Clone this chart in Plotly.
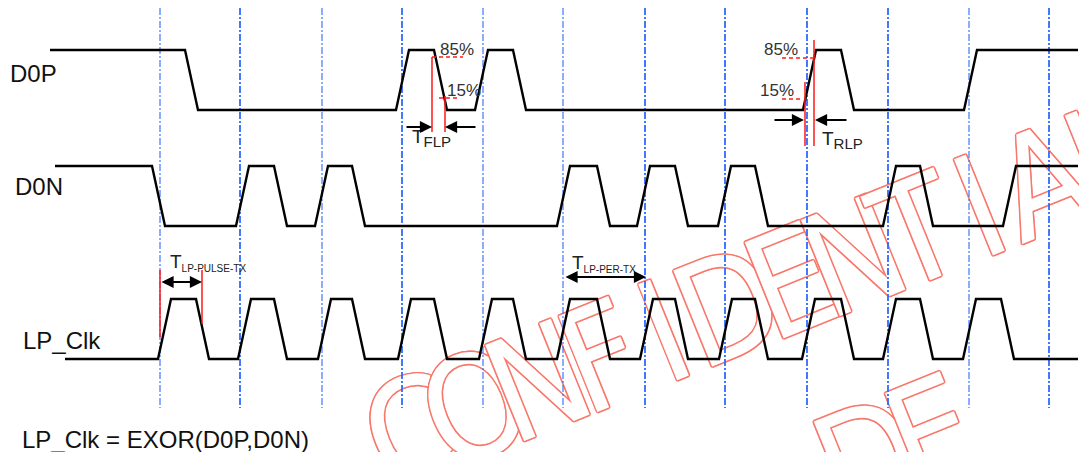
import math
import plotly.graph_objects as go

# ---------------- data (time positions on the diagram's horizontal scale) ----------------
signal_names = ["D0P", "D0N", "LP_Clk"]
d0p_edges = [185, 396, 434, 475, 513, 803, 841, 964]
d0n_edges = [152, 236, 274, 315, 352, 557, 597, 637, 675, 718, 755, 883, 920, 1003]
clk_edges = [158, 196, 238, 274, 318, 352, 398, 434, 479, 513, 557, 597,
             640, 675, 719, 755, 802, 841, 883, 920, 963, 1001]
start_levels = [1, 1, 0]
grid_times = [160, 240, 322, 402, 483, 563, 645, 725, 807, 888, 969, 1049]
pct_labels = ["85%", "15%"]
timing_main = ["T", "T", "T", "T"]
timing_subs = ["FLP", "RLP", "LP-PULSE-TX", "LP-PER-TX"]
formula = "LP_Clk = EXOR(D0P,D0N)"
watermark_1 = "CONFIDENTIAL"
watermark_2 = "DE"

# ---------------- layout / styles ----------------
W, H = 1079, 452
SLEW = 13
rows = {"D0P": (50, 110, 50), "D0N": (166, 226, 55), "LP_Clk": (299, 359, 65)}  # hi, lo, start x
X_END = 1078
BLUE = "#2f6bff"
RED = "#ff1a1a"
WM = "#f8786c"
FONT = "Liberation Sans, Arial, sans-serif"


def wave(edges, lvl, x0, x1, hi, lo):
    xs, ys = [x0], [hi if lvl else lo]
    for e in edges:
        xs.append(e); ys.append(hi if lvl else lo)
        lvl = 1 - lvl
        xs.append(e + SLEW); ys.append(hi if lvl else lo)
    xs.append(x1); ys.append(hi if lvl else lo)
    return xs, ys


fig = go.Figure()

# ---- watermark (bar text so that it sits beneath the line traces) ----
ang = math.radians(21.6)
step = 67.9
wm_x, wm_y, wm_t = [], [], []
for i, ch in enumerate(watermark_1):
    wm_x.append(412 + i * step * math.cos(ang)); wm_y.append(432 - i * step * math.sin(ang)); wm_t.append(ch)
for i, ch in enumerate(watermark_2):
    wm_x.append(868 + i * step * math.cos(ang)); wm_y.append(458 - i * step * math.sin(ang)); wm_t.append(ch)
ring = [(1.6, 0), (-1.6, 0), (0, 1.6), (0, -1.6), (1.1, 1.1), (1.1, -1.1), (-1.1, 1.1), (-1.1, -1.1)]
shadow = ", ".join(f"{dx}px {dy}px 0 {WM}" for dx, dy in ring)
fig.add_trace(go.Bar(
    x=wm_x, y=[280] * len(wm_x), base=[v - 140 for v in wm_y], width=[200] * len(wm_x),
    text=wm_t, textposition="inside", insidetextanchor="middle", textangle=-22,
    constraintext="none", cliponaxis=True,
    textfont=dict(family="Liberation Sans Narrow, Arial Narrow, DejaVu Sans Condensed, Liberation Sans, Arial",
                  size=142, color="white", shadow=shadow),
    marker=dict(color="rgba(0,0,0,0)", line=dict(width=0)),
    hoverinfo="skip", showlegend=False,
))

# ---- dashed blue timing grid ----
thick = {240, 402, 645, 725, 807, 888, 1049}
for gx in grid_times:
    fig.add_trace(go.Scatter(x=[gx, gx], y=[8, 408], mode="lines",
                             line=dict(color=BLUE, width=1.8 if gx in thick else 1.1,
                                       dash="7px,2px,2px,2px"),
                             hoverinfo="skip", showlegend=False))

# ---- signals ----
for name, edges, lvl in zip(signal_names, [d0p_edges, d0n_edges, clk_edges], start_levels):
    hi, lo, x0 = rows[name]
    xs, ys = wave(edges, lvl, x0, X_END, hi, lo)
    fig.add_trace(go.Scatter(x=xs, y=ys, mode="lines", line=dict(color="black", width=2.4),
                             hoverinfo="skip", showlegend=False))

# ---- red measurement lines ----
red_solid = [((432, 432), (57, 132)), ((445, 445), (96, 132)),
             ((805, 805), (82, 146)), ((814, 814), (40, 146)),
             ((160, 160), (270, 337)), ((202, 202), (270, 324))]
for xs, ys in red_solid:
    fig.add_trace(go.Scatter(x=list(xs), y=list(ys), mode="lines", line=dict(color=RED, width=1.5),
                             hoverinfo="skip", showlegend=False))
red_dash = [((432, 463), (57, 57)), ((439, 457), (98, 98)),
            ((782, 817), (58, 58)), ((782, 803), (99, 99))]
for xs, ys in red_dash:
    fig.add_trace(go.Scatter(x=list(xs), y=list(ys), mode="lines",
                             line=dict(color=RED, width=1.6, dash="4px,3px"),
                             hoverinfo="skip", showlegend=False))

ann = []
# signal labels
for name, (lx, ly) in zip(signal_names, [(8, 73), (13, 186), (21, 340)]):
    ann.append(dict(x=lx, y=ly, text=name, xanchor="left", yanchor="middle", showarrow=False,
                    font=dict(family=FONT, size=24, color="#111")))
ann.append(dict(x=20, y=439, text=formula, xanchor="left", yanchor="middle", showarrow=False,
                font=dict(family=FONT, size=24, color="#111")))
# percent labels
for t, (px, py) in zip(pct_labels * 2, [(438, 49), (445, 90), (762, 49), (758, 90)]):
    ann.append(dict(x=px, y=py, text=t, xanchor="left", yanchor="middle", showarrow=False,
                    font=dict(family=FONT, size=17, color="#333")))
# timing labels
for tm, ts, fs, (px, py) in zip(timing_main, timing_subs, [15, 15, 10, 10],
                                [(410, 138), (820, 140), (168, 262), (570, 263)]):
    ann.append(dict(x=px, y=py, text=f"{tm}<sub><span style='font-size:{fs}px'>{ts}</span></sub>",
                    xanchor="left", yanchor="middle", showarrow=False,
                    font=dict(family=FONT, size=19, color="#222")))
# arrows
arrows = [((405, 127), (432, 127), "end"), ((477, 127), (445, 127), "end"),
          ((773, 120), (804, 120), "end"), ((848, 120), (815, 120), "end"),
          ((160, 282), (202, 282), "end+start"), ((564, 277), (646, 277), "end+start")]
for (ax_, ay_), (x_, y_), side in arrows:
    ann.append(dict(x=x_, y=y_, ax=ax_, ay=ay_, xref="x", yref="y", axref="x", ayref="y",
                    text="", showarrow=True, arrowhead=2, startarrowhead=2, arrowside=side,
                    arrowsize=1.1, startarrowsize=1.1, arrowwidth=2.2, arrowcolor="black"))

fig.update_layout(
    width=W, height=H, margin=dict(l=0, r=0, t=0, b=0),
    paper_bgcolor="white", plot_bgcolor="white",
    xaxis=dict(range=[0, W], visible=False, fixedrange=True),
    yaxis=dict(range=[H, 0], visible=False, fixedrange=True),
    annotations=ann, barmode="overlay", showlegend=False,
)
fig.write_html("out.html", config={"displayModeBar": False},
               post_script="document.body.style.margin='0px';document.body.style.overflow='hidden';")
